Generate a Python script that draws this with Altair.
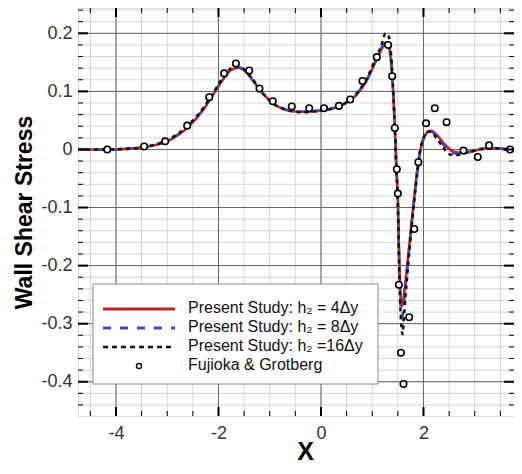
import altair as alt
import pandas as pd

# ---------------- data ----------------
x_sim = [-4.74, -4.2, -3.8, -3.4, -3.0, -2.6, -2.3, -2.1, -1.9, -1.75, -1.6, -1.45,
         -1.3, -1.1, -0.9, -0.7, -0.4, -0.1, 0.2, 0.45, 0.7, 0.9, 1.05, 1.18, 1.26,
         1.32, 1.37, 1.41, 1.44, 1.47, 1.50, 1.52, 1.54, 1.57, 1.59, 1.62, 1.67, 1.74,
         1.81, 1.88, 1.93, 2.0, 2.08, 2.15, 2.25, 2.38, 2.5, 2.62, 2.78, 2.95, 3.15,
         3.4, 3.7, 3.93]
y_h4 = [0.0, 0.0, 0.001, 0.005, 0.014, 0.038, 0.068, 0.095, 0.122, 0.137, 0.141, 0.132,
        0.115, 0.093, 0.077, 0.069, 0.065, 0.066, 0.070, 0.078, 0.095, 0.120, 0.148, 0.172, 0.184,
        0.178, 0.148, 0.095, 0.040, -0.030, -0.085, -0.165, -0.225, -0.270, -0.268, -0.250, -0.210, -0.150,
        -0.090, -0.035, -0.005, 0.018, 0.030, 0.032, 0.026, 0.012, 0.001, -0.005, -0.006, -0.003, 0.001,
        0.002, 0.0, 0.0]
y_h8 = [0.0, 0.0, 0.001, 0.005, 0.015, 0.039, 0.069, 0.096, 0.123, 0.138, 0.141, 0.133,
        0.116, 0.093, 0.077, 0.069, 0.065, 0.066, 0.070, 0.078, 0.096, 0.121, 0.150, 0.175, 0.187,
        0.183, 0.152, 0.098, 0.040, -0.032, -0.090, -0.175, -0.240, -0.288, -0.286, -0.262, -0.218, -0.155,
        -0.093, -0.037, -0.005, 0.019, 0.030, 0.031, 0.024, 0.009, -0.002, -0.007, -0.006, -0.003, 0.001,
        0.002, 0.0, 0.0]
y_h16 = [0.0, 0.0, 0.001, 0.005, 0.016, 0.041, 0.071, 0.098, 0.125, 0.140, 0.143, 0.134,
         0.117, 0.093, 0.077, 0.069, 0.064, 0.066, 0.070, 0.079, 0.097, 0.123, 0.153, 0.180, 0.200,
         0.195, 0.160, 0.100, 0.040, -0.034, -0.095, -0.180, -0.250, -0.305, -0.318, -0.285, -0.230, -0.160,
         -0.096, -0.040, -0.005, 0.020, 0.031, 0.030, 0.020, 0.004, -0.008, -0.010, -0.007, -0.003, 0.001,
         0.002, 0.0, 0.0]

x_ref = [-4.17, -3.45, -3.04, -2.61, -2.18, -1.89, -1.66, -1.40, -1.20, -0.94, -0.57, -0.23,
         0.06, 0.35, 0.57, 0.81, 1.09, 1.31, 1.39, 1.44, 1.48, 1.50, 1.52, 1.56, 1.61, 1.72,
         1.82, 1.90, 2.05, 2.22, 2.45, 2.78, 3.06, 3.28, 3.69]
y_ref = [0.0, 0.005, 0.014, 0.041, 0.090, 0.131, 0.148, 0.136, 0.105, 0.083, 0.074, 0.071,
         0.071, 0.075, 0.086, 0.118, 0.159, 0.180, 0.126, 0.037, -0.034, -0.076, -0.233, -0.350, -0.404, -0.289,
         -0.137, -0.022, 0.045, 0.071, 0.047, -0.002, -0.013, 0.007, 0.0]

x_major = [-4, -2, 0, 2, 4]
y_major = [-0.4, -0.3, -0.2, -0.1, 0.0, 0.1, 0.2]
x_minor = [-4.5, -4.0, -3.5, -3.0, -2.5, -2.0, -1.5, -1.0, -0.5, 0.0, 0.5, 1.0, 1.5, 2.0, 2.5, 3.0, 3.5]
y_minor = [round(-0.44 + 0.02 * i, 2) for i in range(35)]

legend_labels = ["Present Study: h₂ = 4Δy", "Present Study: h₂ = 8Δy",
                 "Present Study: h₂ =16Δy", "Fujioka & Grotberg"]

# ---------------- layout ----------------
W, H = 436, 408
FONT = "Liberation Sans"
xs = alt.Scale(domain=[-4.741, 3.766], nice=False, zero=False)
ys = alt.Scale(domain=[-0.459, 0.2436], nice=False, zero=False)

x_axis = alt.Axis(values=x_major, grid=False, ticks=False, tickSize=0, domain=False,
                  labelFontSize=18, labelColor="#333333", labelPadding=8, labelFont=FONT,
                  labelFlush=False, labelOverlap=False,
                  labelExpr="datum.value < 0 ? '-' + format(-datum.value, 'd') : format(datum.value, 'd')",
                  title="X", titleFontSize=25, titleFontWeight="bold", titleFont=FONT,
                  titleX=227, titleY=35, titleAlign="center", titleBaseline="middle", titleColor="black")
y_axis = alt.Axis(values=y_major, grid=False, ticks=False, tickSize=0, domain=False,
                  labelFontSize=18, labelColor="#333333", labelPadding=6, labelFont=FONT,
                  labelFlush=False, labelOverlap=False,
                  labelExpr="datum.value == 0 ? '0' : (datum.value < 0 ? '-' + format(-datum.value, '.1f') : format(datum.value, '.1f'))",
                  title="Wall Shear Stress", titleFontSize=23, titleFontWeight="bold", titleFont=FONT,
                  titleAngle=270, titleX=-54, titleY=204, titleAlign="center", titleBaseline="middle",
                  titleColor="black")


def X(f):
    return alt.X(f, type="quantitative", scale=xs, axis=x_axis)


def Y(f):
    return alt.Y(f, type="quantitative", scale=ys, axis=y_axis)


xmaj = pd.DataFrame({"v": x_major})
ymaj = pd.DataFrame({"v": y_major})
xmin = pd.DataFrame({"v": x_minor})
ymin = pd.DataFrame({"v": y_minor})
one = pd.DataFrame({"k": [0]})

layers = []
# grids
layers.append(alt.Chart(xmin).mark_rule(color="#d6d6d6", strokeWidth=1, clip=True).encode(x=X("v")))
layers.append(alt.Chart(ymin).mark_rule(color="#d6d6d6", strokeWidth=1, clip=True).encode(y=Y("v")))
layers.append(alt.Chart(xmaj).mark_rule(color="#666666", strokeWidth=1, clip=True).encode(x=X("v")))
layers.append(alt.Chart(ymaj).mark_rule(color="#666666", strokeWidth=1, clip=True).encode(y=Y("v")))

# curves
sim = pd.DataFrame({"x": x_sim, "h4": y_h4, "h8": y_h8, "h16": y_h16})
layers.append(alt.Chart(sim).mark_line(color="#c42222", strokeWidth=2.6, interpolate="monotone", clip=True)
              .encode(x=X("x"), y=Y("h4")))
layers.append(alt.Chart(sim).mark_line(color="#4646c8", strokeWidth=2.6, strokeDash=[8, 8],
                                       interpolate="monotone", clip=True)
              .encode(x=X("x"), y=Y("h8")))
layers.append(alt.Chart(sim).mark_line(color="#111111", strokeWidth=2.6, strokeDash=[4, 4],
                                       interpolate="monotone", clip=True)
              .encode(x=X("x"), y=Y("h16")))

# reference points
ref = pd.DataFrame({"x": x_ref, "y": y_ref})
layers.append(alt.Chart(ref).mark_point(shape="circle", filled=False, fill="white", fillOpacity=1,
                                        color="black", strokeWidth=1.6, size=42, opacity=1, clip=True)
              .encode(x=X("x"), y=Y("y")))

# inward ticks
def vtick(df, y0, y1, w):
    return alt.Chart(df).mark_rule(color="black", strokeWidth=w, clip=True).encode(
        x=X("v"), y=alt.value(y0), y2=alt.value(y1))


def htick(df, x0, x1, w):
    return alt.Chart(df).mark_rule(color="black", strokeWidth=w, clip=True).encode(
        y=Y("v"), x=alt.value(x0), x2=alt.value(x1))


layers += [vtick(xmaj, H, H - 9, 2), vtick(xmin, H, H - 5, 1),
           vtick(xmaj, 0, 9, 2), vtick(xmin, 0, 5, 1),
           htick(ymaj, 0, 10, 2), htick(ymin, 0, 5, 1),
           htick(ymaj, W, W - 10, 2), htick(ymin, W, W - 5, 1)]

# legend box
layers.append(alt.Chart(one).mark_rect(fill="white", stroke="#8a8a8a", strokeWidth=1).encode(
    x=alt.value(15), x2=alt.value(300), y=alt.value(276), y2=alt.value(376)))
leg_y = [301, 320, 339, 358]
layers.append(alt.Chart(one).mark_rule(color="#c42222", strokeWidth=3).encode(
    x=alt.value(25), x2=alt.value(97), y=alt.value(leg_y[0])))
layers.append(alt.Chart(one).mark_rule(color="#4646c8", strokeWidth=3, strokeDash=[8, 9]).encode(
    x=alt.value(25), x2=alt.value(97), y=alt.value(leg_y[1])))
layers.append(alt.Chart(one).mark_rule(color="#111111", strokeWidth=2.6, strokeDash=[5, 4]).encode(
    x=alt.value(25), x2=alt.value(97), y=alt.value(leg_y[2])))
layers.append(alt.Chart(one).mark_point(shape="circle", filled=False, color="black", strokeWidth=1.4,
                                        size=26, opacity=1).encode(
    x=alt.value(61), y=alt.value(leg_y[3])))
for lbl, ly in zip(legend_labels, leg_y):
    layers.append(alt.Chart(one).mark_text(align="left", baseline="middle", fontSize=16, font=FONT,
                                           color="#111111").encode(
        x=alt.value(110), y=alt.value(ly - 1), text=alt.value(lbl)))

chart = alt.layer(*layers).properties(
    width=W, height=H,
    autosize=alt.AutoSizeParams(type="none"),
    padding={"left": 70, "top": 0, "right": 0, "bottom": 50},
).configure_view(stroke="black", strokeWidth=2).configure(font=FONT, background="white")

chart.save("out.html", embed_options={"renderer": "svg", "actions": False})
